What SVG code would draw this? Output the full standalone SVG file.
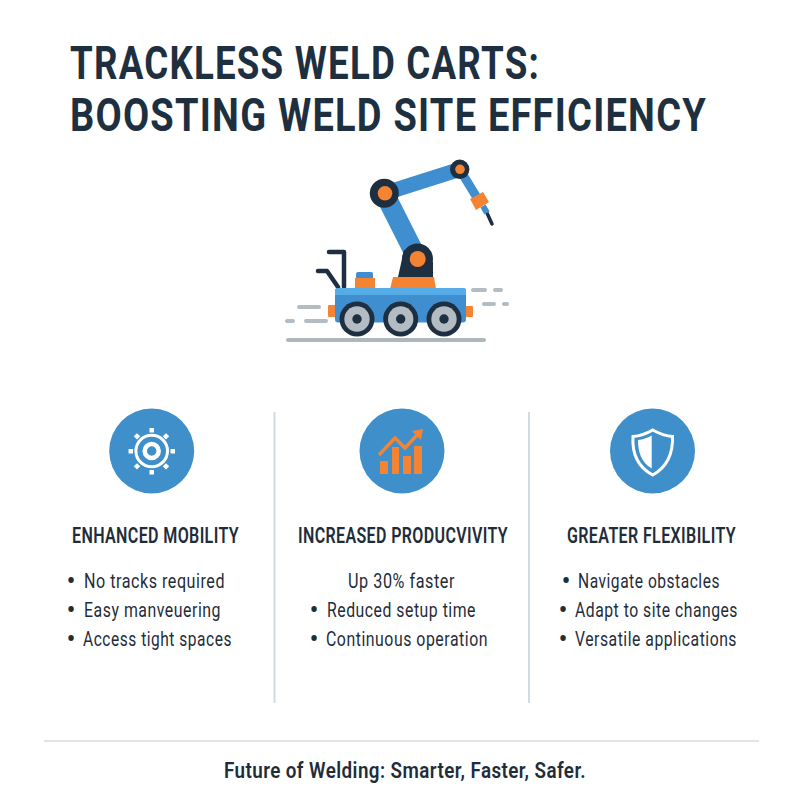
<svg xmlns="http://www.w3.org/2000/svg" width="800" height="800" viewBox="0 0 800 800">
<style>
text{font-family:Roboto,"Liberation Sans",sans-serif;fill:#1f2d3b}
.t{font-size:46px;font-weight:700;fill:#1e3040;letter-spacing:1.500px}
.h{font-size:22px;font-weight:600;letter-spacing:.5px}
.b{font-size:21px;font-weight:400;letter-spacing:.7px}
.u{font-size:27px;text-anchor:middle}
.f{font-size:22px;font-weight:600;letter-spacing:.5px}
.c{fill:#3f8fcb}
.o{fill:#f58432}
.n{fill:#1d2f40}
.bl{fill:#3f8ecf}
.g{fill:#b3bcc2}
.d{stroke:#d3dae0;stroke-width:2;fill:none}
.s{stroke:#b3bcc2;stroke-width:4;stroke-linecap:round}
</style>
<rect width="800" height="800" fill="#fff"/>
<g id="title">
<text class="t" x="70" y="79" textLength="470" lengthAdjust="spacingAndGlyphs">TRACKLESS WELD CARTS:</text>
<text class="t" x="70" y="131" textLength="637" lengthAdjust="spacingAndGlyphs">BOOSTING WELD SITE EFFICIENCY</text>
</g>
<g id="cart">
<path d="M288 340H484" stroke="#aeb7bc" stroke-width="4" stroke-linecap="round"/>
<path class="s" d="M299 307H319M287 321H293M306 321H326M473 290H485M495 290H501M484 304H494M504 304H507"/>
<rect class="o" x="328" y="305" width="10" height="12" rx="1"/>
<rect class="o" x="464" y="306" width="9" height="11" rx="1"/>
<path d="M329 252H344V287M318 271H327L338 287" fill="none" stroke="#1d2f40" stroke-width="4.500" stroke-linecap="round" stroke-linejoin="round"/>
<rect class="bl" x="356" y="272" width="17" height="10" rx="2"/>
<rect class="o" x="355" y="278" width="20" height="11"/>
<path class="o" d="M393 277H434L436 289H390Z"/>
<path d="M417.500 259L384.300 193.300" stroke="#3f8ecf" stroke-width="20"/>
<path d="M384.300 193.300L459.700 169.300" stroke="#3f8ecf" stroke-width="15"/>
<path d="M459.700 169.300L479 201" stroke="#3f8ecf" stroke-width="9"/>
<path class="n" d="M398 277L404 250L433 262V277Z"/>
<circle class="n" cx="417.500" cy="259" r="15.500"/>
<circle class="o" cx="417.700" cy="259" r="8"/>
<circle class="n" cx="384.300" cy="193.300" r="14.500"/>
<circle class="o" cx="385" cy="193.300" r="7.300"/>
<circle class="n" cx="459.700" cy="169.300" r="9.700"/>
<circle class="o" cx="460" cy="169.300" r="4.800"/>
<path d="M487 213L492 224" stroke="#1d2f40" stroke-width="3.500" stroke-linecap="round"/>
<path d="M483 206L487 213" stroke="#3f8ecf" stroke-width="6"/>
<path class="o" d="M470 199L483 192L489 202L476 210Z"/>
<rect x="335" y="288" width="131" height="34.500" rx="3" fill="#3f8ecf"/>
<path d="M335 291a3 3 0 0 1 3-3H463a3 3 0 0 1 3 3V295H335Z" fill="#55ace6"/>
<g id="wheels">
<circle class="n" cx="357" cy="319" r="17.500"/><circle class="g" cx="357" cy="319" r="12.700"/><circle class="n" cx="357" cy="319" r="4.700"/>
<circle class="n" cx="400.700" cy="319" r="17.500"/><circle class="g" cx="400.700" cy="319" r="12.700"/><circle class="n" cx="400.700" cy="319" r="4.700"/>
<circle class="n" cx="444" cy="319" r="17.500"/><circle class="g" cx="444" cy="319" r="12.700"/><circle class="n" cx="444" cy="319" r="4.700"/>
</g>
</g>
<g id="dividers">
<path class="d" d="M274.500 412V703M529 412V703"/>
<path d="M44 741H759" stroke="#dfe5ea" stroke-width="2"/>
</g>
<g id="col1">
<circle class="c" cx="151.700" cy="451" r="42.500"/>
<g fill="none" stroke="#fff"><circle cx="151.700" cy="451" r="15.800" stroke-width="3"/><circle cx="151.700" cy="451" r="7" stroke-width="4.500"/></g>
<g fill="#fff"><rect x="149.500" y="428" width="4.500" height="4.500"/><rect x="149.500" y="470" width="4.500" height="4.500"/><rect x="128.500" y="449" width="4.500" height="4.500"/><rect x="170.500" y="449" width="4.500" height="4.500"/><rect x="135" y="434" width="4.500" height="4.500" transform="rotate(45 137 436)"/><rect x="164" y="434" width="4.500" height="4.500" transform="rotate(45 166 436)"/><rect x="135" y="464" width="4.500" height="4.500" transform="rotate(45 137 466)"/><rect x="164" y="464" width="4.500" height="4.500" transform="rotate(45 166 466)"/></g>
<text class="h" x="72" y="543" textLength="167" lengthAdjust="spacingAndGlyphs">ENHANCED MOBILITY</text>
<text class="u" x="71" y="590">•</text>
<text class="b" x="84" y="588" textLength="141" lengthAdjust="spacingAndGlyphs">No tracks required</text>
<text class="u" x="71" y="619">•</text>
<text class="b" x="84" y="617" textLength="137" lengthAdjust="spacingAndGlyphs">Easy manveuering</text>
<text class="u" x="71" y="648">•</text>
<text class="b" x="83" y="646" textLength="149" lengthAdjust="spacingAndGlyphs">Access tight spaces</text>
</g>
<g id="col2">
<circle class="c" cx="402" cy="451" r="42.500"/>
<path class="o" d="M380 461H388V474H380ZM392 447H399V474H392ZM403 456H411V474H403ZM414 446H422V474H414Z"/>
<path d="M379 455L395 438L405 448L418 434" fill="none" stroke="#f58432" stroke-width="3.500"/>
<path class="o" d="M412 431L423 429L421 440Z"/>
<text class="h" x="298" y="543" textLength="210" lengthAdjust="spacingAndGlyphs">INCREASED PRODUCVIVITY</text>
<text class="b" x="348" y="588" textLength="107" lengthAdjust="spacingAndGlyphs">Up 30% faster</text>
<text class="u" x="314" y="619">•</text>
<text class="b" x="327" y="617" textLength="149" lengthAdjust="spacingAndGlyphs">Reduced setup time</text>
<text class="u" x="314" y="648">•</text>
<text class="b" x="326" y="646" textLength="162" lengthAdjust="spacingAndGlyphs">Continuous operation</text>
</g>
<g id="col3">
<circle class="c" cx="652.500" cy="451" r="42.500"/>
<path d="M652.700 430C646 434 640 436 633 436.500C632 452 636 466 652.700 475C669 466 673 452 672.500 436.500C666 436 660 434 652.700 430Z" fill="none" stroke="#fff" stroke-width="3"/>
<path d="M651.700 435.500C647 438 643 439.500 638 440C638 452 641 462 651.700 468.500Z" fill="#fff"/>
<text class="h" x="567" y="543" textLength="169" lengthAdjust="spacingAndGlyphs">GREATER FLEXIBILITY</text>
<text class="u" x="566" y="590">•</text>
<text class="b" x="578" y="588" textLength="142" lengthAdjust="spacingAndGlyphs">Navigate obstacles</text>
<text class="u" x="563" y="619">•</text>
<text class="b" x="575" y="617" textLength="163" lengthAdjust="spacingAndGlyphs">Adapt to site changes</text>
<text class="u" x="563" y="648">•</text>
<text class="b" x="575" y="646" textLength="162" lengthAdjust="spacingAndGlyphs">Versatile applications</text>
</g>
<g id="footer">
<text class="f" x="224" y="778" textLength="362" lengthAdjust="spacingAndGlyphs">Future of Welding: Smarter, Faster, Safer.</text>
</g>
</svg>
